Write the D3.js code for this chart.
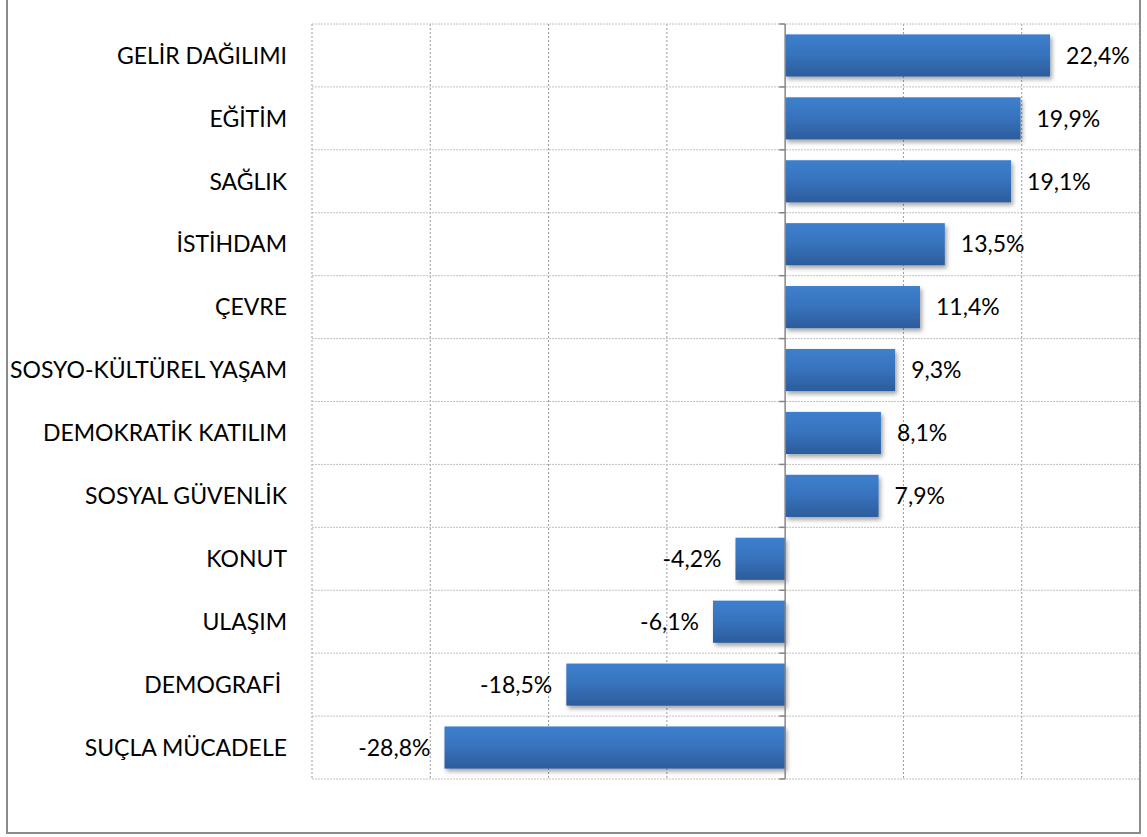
<!DOCTYPE html>
<html>
<head>
<meta charset="utf-8">
<script src="https://cdn.jsdelivr.net/npm/d3@7"></script>
<style>
  html, body { margin: 0; padding: 0; background: #fff; }
  svg { display: block; }
  text { font-family: Lato, "Open Sans", sans-serif; fill: #000; white-space: pre; }
</style>
</head>
<body>
<svg id="chart" width="1147" height="837"></svg>
<script>
const categories = ["GELİR DAĞILIMI", "EĞİTİM", "SAĞLIK", "İSTİHDAM", "ÇEVRE",
  "SOSYO-KÜLTÜREL YAŞAM", "DEMOKRATİK KATILIM", "SOSYAL GÜVENLİK", "KONUT",
  "ULAŞIM", "DEMOGRAFİ ", "SUÇLA MÜCADELE"];
const values = [22.4, 19.9, 19.1, 13.5, 11.4, 9.3, 8.1, 7.9, -4.2, -6.1, -18.5, -28.8];
const xTicks = [-40, -30, -20, -10, 0, 10, 20, 30];

const svg = d3.select("#chart");
const plot = { left: 312, right: 1140, top: 24, bottom: 779 };

// outer frame
svg.append("rect")
  .attr("x", 7).attr("y", -2)
  .attr("width", 1133).attr("height", 835)
  .attr("fill", "none").attr("stroke", "#8c8c8c").attr("stroke-width", 2);

const x = d3.scaleLinear().domain([-40, 30]).range([plot.left, plot.right]);
const y = d3.scaleBand().domain(categories).range([plot.top, plot.bottom]).paddingInner(0.33).paddingOuter(0.165);
const rowY = d3.scaleBand().domain(categories).range([plot.top, plot.bottom]);

const defs = svg.append("defs");
const grad = defs.append("linearGradient").attr("id", "barGrad")
  .attr("x1", 0).attr("y1", 0).attr("x2", 0).attr("y2", 1);
grad.append("stop").attr("offset", "0%").attr("stop-color", "#3d7fcd");
grad.append("stop").attr("offset", "45%").attr("stop-color", "#3874bf");
grad.append("stop").attr("offset", "100%").attr("stop-color", "#2c5c9b");
const shadow = defs.append("filter").attr("id", "shadow")
  .attr("x", "-5%").attr("y", "-20%").attr("width", "115%").attr("height", "160%");
shadow.append("feDropShadow").attr("dx", 2).attr("dy", 3).attr("stdDeviation", 2)
  .attr("flood-color", "#000").attr("flood-opacity", 0.35);

// gridlines
const grid = svg.append("g");
grid.selectAll("line.v").data(xTicks.filter(d => d !== 0)).join("line")
  .attr("x1", d => x(d)).attr("x2", d => x(d))
  .attr("y1", plot.top).attr("y2", plot.bottom)
  .attr("stroke", "#9a9a9a").attr("stroke-width", 1).attr("stroke-dasharray", "2,2");
const hLines = categories.map(c => rowY(c)).concat([plot.bottom]);
grid.selectAll("line.h").data(hLines).join("line")
  .attr("x1", plot.left).attr("x2", plot.right)
  .attr("y1", d => d).attr("y2", d => d)
  .attr("stroke", "#c0c0c0").attr("stroke-width", 1).attr("stroke-dasharray", "2,1");

// bars
svg.append("g").selectAll("rect").data(values).join("rect")
  .attr("x", d => x(Math.min(0, d)))
  .attr("y", (d, i) => y(categories[i]))
  .attr("width", d => Math.abs(x(d) - x(0)))
  .attr("height", y.bandwidth())
  .attr("fill", "url(#barGrad)")
  .attr("filter", "url(#shadow)");

// zero axis with ticks
const axis = svg.append("g").attr("transform", `translate(${x(0)},0)`);
axis.append("line").attr("y1", plot.top).attr("y2", plot.bottom)
  .attr("stroke", "#868686").attr("stroke-width", 1.5);
axis.selectAll("line.t").data(hLines).join("line")
  .attr("x1", -6).attr("x2", 0).attr("y1", d => d).attr("y2", d => d)
  .attr("stroke", "#868686").attr("stroke-width", 1.5);

// value labels
const fmt = v => String(v.toFixed(1)).replace(".", ",") + "%";
svg.append("g").selectAll("text").data(values).join("text")
  .attr("x", d => d >= 0 ? x(d) + 16 : x(d) - 14)
  .attr("y", (d, i) => y(categories[i]) + y.bandwidth() / 2)
  .attr("dy", "0.36em")
  .attr("text-anchor", d => d >= 0 ? "start" : "end")
  .style("font-size", "23px")
  .text(fmt);

// category labels
svg.append("g").selectAll("text").data(categories).join("text")
  .attr("x", 287)
  .attr("y", d => rowY(d) + rowY.bandwidth() / 2)
  .attr("dy", "0.36em")
  .attr("text-anchor", "end")
  .style("font-size", "23px")
  .text(d => d);
</script>
</body>
</html>
